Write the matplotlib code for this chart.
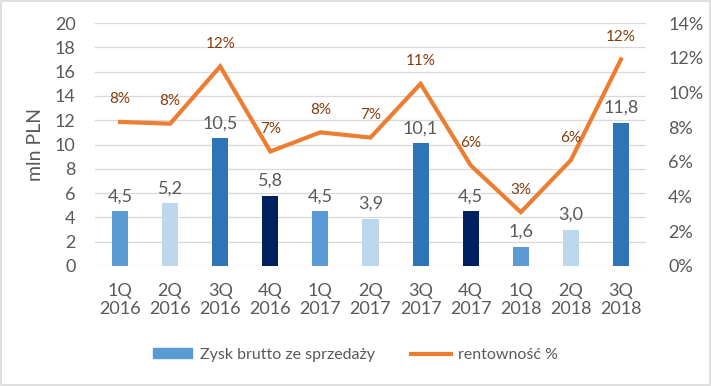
import numpy as np
import matplotlib.pyplot as plt
from matplotlib.ticker import FuncFormatter, MultipleLocator
from matplotlib.lines import Line2D
from matplotlib.patches import Patch

plt.rcParams['font.family'] = ['Lato', 'DejaVu Sans']

quarters = ["1Q\n2016", "2Q\n2016", "3Q\n2016", "4Q\n2016", "1Q\n2017", "2Q\n2017",
            "3Q\n2017", "4Q\n2017", "1Q\n2018", "2Q\n2018", "3Q\n2018"]
zysk = [4.5, 5.2, 10.5, 5.8, 4.5, 3.9, 10.1, 4.5, 1.6, 3.0, 11.8]
rentownosc = [8.3, 8.2, 11.5, 6.6, 7.7, 7.4, 10.5, 5.8, 3.1, 6.1, 11.9]
rent_labels = ["8%", "8%", "12%", "7%", "8%", "7%", "11%", "6%", "3%", "6%", "12%"]

q_colors = {"1Q": "#5B9BD5", "2Q": "#BDD7EE", "3Q": "#2E75B6", "4Q": "#002060"}
bar_colors = [q_colors[q.split("\n")[0]] for q in quarters]

gray = "#595959"

fig = plt.figure(figsize=(7.11, 3.86), dpi=100)
ax = fig.add_axes([95 / 711, 1 - 266 / 386, (646 - 95) / 711, (266 - 23) / 386])
x = np.arange(len(quarters))

ax.bar(x, zysk, width=0.32, color=bar_colors, zorder=2)
for xi, v in zip(x, zysk):
    ax.text(xi, v + 0.55, f"{v:.1f}".replace(".", ","), ha="center", va="bottom",
            fontsize=13, color=gray)

ax.set_ylim(0, 20)
ax.set_xlim(-0.5, len(quarters) - 0.5)
ax.yaxis.set_major_locator(MultipleLocator(2))
ax.grid(axis="y", color="#D9D9D9", lw=0.9, zorder=0)
ax.set_xticks(x)
ax.set_xticklabels(quarters, fontsize=13, color=gray, linespacing=1.2)
ax.tick_params(axis="both", length=0, labelsize=13, labelcolor=gray)
ax.tick_params(axis="x", pad=12)
ax.tick_params(axis="y", pad=14)
ax.set_ylabel("mln PLN", fontsize=14, color=gray, labelpad=8)
for s in ax.spines.values():
    s.set_visible(False)

ax2 = ax.twinx()
ax2.plot(x, rentownosc, color="#ED7D31", lw=3, zorder=3, solid_joinstyle="miter")
for xi, v, lab in zip(x, rentownosc, rent_labels):
    ax2.text(xi, v + 0.9, lab, ha="center", va="bottom", fontsize=11, color="#843C0C")
ax2.set_ylim(0, 14)
ax2.yaxis.set_major_locator(MultipleLocator(2))
ax2.yaxis.set_major_formatter(FuncFormatter(lambda v, p: f"{v:.0f}%"))
ax2.tick_params(axis="y", length=0, labelsize=13, labelcolor=gray, pad=16)
for s in ax2.spines.values():
    s.set_visible(False)

handles = [Patch(color="#5B9BD5"), Line2D([0], [0], color="#ED7D31", lw=3)]
fig.legend(handles, ["Zysk brutto ze sprzedaży", "rentowność %"], loc="center",
           bbox_to_anchor=(0.5, 1 - 355 / 386), ncol=2, frameon=False,
           fontsize=11.5, labelcolor=gray, columnspacing=2.3, handlelength=2.5,
           handleheight=0.6, handletextpad=0.45)

fig.patches.append(plt.Rectangle((0.002, 0.003), 0.996, 0.994, transform=fig.transFigure,
                                 fill=False, edgecolor="#D9D9D9", lw=1.2))

fig.savefig("out.png", dpi=100)
